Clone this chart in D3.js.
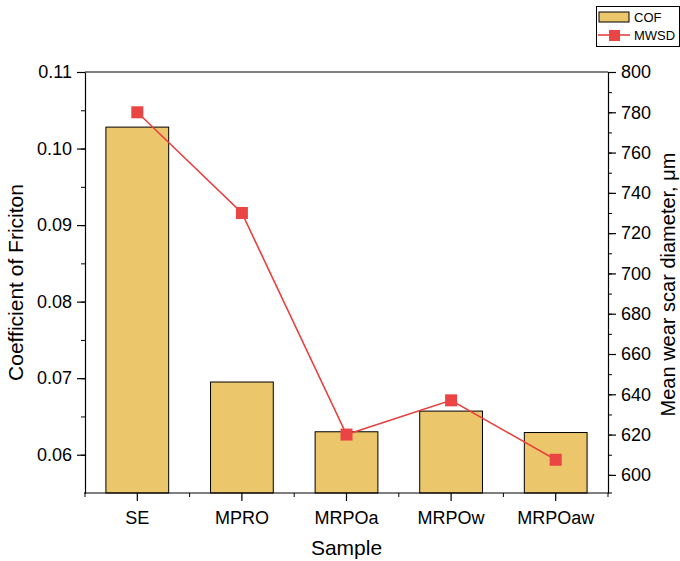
<!DOCTYPE html>
<html>
<head>
<meta charset="utf-8">
<script src="https://cdn.jsdelivr.net/npm/d3@7"></script>
<style>
  body { margin: 0; background: #fff; }
  svg text { font-family: "Liberation Sans", Arial, sans-serif; fill: #000; }
</style>
</head>
<body>
<svg id="chart" width="680" height="561"></svg>
<script>
const samples = ["SE", "MPRO", "MRPOa", "MRPOw", "MRPOaw"];
const cof = [0.1028, 0.0695, 0.0630, 0.0657, 0.0629];
const mwsd = [780, 730, 620, 637, 607.5];
const cofTicks = [0.06, 0.07, 0.08, 0.09, 0.10, 0.11];
const mwsdTicks = [600, 620, 640, 660, 680, 700, 720, 740, 760, 780, 800];

const pLeft = 85, pRight = 608, pTop = 72, pBottom = 493;

const svg = d3.select("#chart");

const x = d3.scaleBand()
    .domain(samples)
    .range([pLeft, pRight])
    .paddingInner(0.4)
    .paddingOuter(0.2);

const yL = d3.scaleLinear().domain([0.055, 0.11]).range([pBottom, pTop]);
const yR = d3.scaleLinear().domain([591, 800]).range([pBottom, pTop]);

// bars
svg.selectAll(".bar")
    .data(samples)
    .enter()
    .append("rect")
    .attr("class", "bar")
    .attr("x", d => x(d))
    .attr("width", x.bandwidth())
    .attr("y", (d, i) => yL(cof[i]))
    .attr("height", (d, i) => pBottom - yL(cof[i]))
    .attr("fill", "#EBC66B")
    .attr("stroke", "#000")
    .attr("stroke-width", 1);

// frame top
svg.append("line")
    .attr("x1", pLeft).attr("x2", pRight)
    .attr("y1", pTop).attr("y2", pTop)
    .attr("stroke", "#000").attr("stroke-width", 1.2);

// left axis
const gL = svg.append("g").attr("transform", `translate(${pLeft},0)`);
gL.call(d3.axisLeft(yL).tickValues(d3.range(0.06, 0.1101, 0.005)).tickSize(4).tickFormat(""));
gL.call(g => g.select(".domain").remove());
const gLM = svg.append("g").attr("transform", `translate(${pLeft},0)`)
    .call(d3.axisLeft(yL).tickValues(cofTicks).tickSize(8).tickSizeOuter(0).tickPadding(5)
        .tickFormat(d3.format(".2f")));
gLM.selectAll("text").style("font-size", "18px");

// right axis
const gR = svg.append("g").attr("transform", `translate(${pRight},0)`);
gR.call(d3.axisRight(yR).tickValues(d3.range(600, 801, 10)).tickSize(4).tickFormat(""));
gR.call(g => g.select(".domain").remove());
const gRM = svg.append("g").attr("transform", `translate(${pRight},0)`)
    .call(d3.axisRight(yR).tickValues(mwsdTicks).tickSize(8).tickSizeOuter(0).tickPadding(5));
gRM.selectAll("text").style("font-size", "18px");

// bottom axis
const bounds = d3.range(samples.length + 1).map(i => pLeft + i * x.step());
const gBm = svg.append("g").attr("transform", `translate(0,${pBottom})`);
gBm.selectAll("line").data(bounds).enter().append("line")
    .attr("x1", d => d).attr("x2", d => d)
    .attr("y1", 0).attr("y2", 4)
    .attr("stroke", "#000");
const gB = svg.append("g").attr("transform", `translate(0,${pBottom})`)
    .call(d3.axisBottom(x).tickSize(8).tickSizeOuter(0).tickPadding(10));
gB.select(".domain").attr("d", `M${pLeft - 1},0H${pRight + 4}`);
gB.selectAll("text").style("font-size", "18px");

[gLM, gRM, gB].forEach(g => {
    g.selectAll("line, .domain").attr("stroke", "#000").attr("stroke-width", 1.2);
});

// line series
const line = d3.line()
    .x((d, i) => x(samples[i]) + x.bandwidth() / 2)
    .y(d => yR(d));

svg.append("path")
    .datum(mwsd)
    .attr("d", line)
    .attr("fill", "none")
    .attr("stroke", "#E8403F")
    .attr("stroke-width", 1.6);

const ms = 12;
svg.selectAll(".marker")
    .data(mwsd)
    .enter()
    .append("rect")
    .attr("class", "marker")
    .attr("x", (d, i) => x(samples[i]) + x.bandwidth() / 2 - ms / 2)
    .attr("y", d => yR(d) - ms / 2)
    .attr("width", ms)
    .attr("height", ms)
    .attr("fill", "#EA4444");

// axis titles
svg.append("text")
    .attr("x", (pLeft + pRight) / 2)
    .attr("y", 555)
    .attr("text-anchor", "middle")
    .style("font-size", "21px")
    .text("Sample");

svg.append("text")
    .attr("transform", `translate(23,${(pTop + pBottom) / 2}) rotate(-90)`)
    .attr("text-anchor", "middle")
    .style("font-size", "21px")
    .text("Coefficient of Friciton");

svg.append("text")
    .attr("transform", `translate(675,${(pTop + pBottom) / 2 + 2}) rotate(-90)`)
    .attr("text-anchor", "middle")
    .style("font-size", "20px")
    .text("Mean wear scar diameter, μm");

// legend
const lg = svg.append("g");
lg.append("rect")
    .attr("x", 596.5).attr("y", 6.5)
    .attr("width", 83).attr("height", 40)
    .attr("fill", "#fff").attr("stroke", "#000");
lg.append("rect")
    .attr("x", 599).attr("y", 12)
    .attr("width", 30).attr("height", 10)
    .attr("fill", "#EBC66B").attr("stroke", "#000");
lg.append("line")
    .attr("x1", 598).attr("x2", 630)
    .attr("y1", 35).attr("y2", 35)
    .attr("stroke", "#E8403F").attr("stroke-width", 1.6);
lg.append("rect")
    .attr("x", 609).attr("y", 30)
    .attr("width", 11).attr("height", 11)
    .attr("fill", "#EA4444");
lg.append("text").attr("x", 634).attr("y", 22).style("font-size", "13px").text("COF");
lg.append("text").attr("x", 634).attr("y", 40).style("font-size", "13px").text("MWSD");
</script>
</body>
</html>
